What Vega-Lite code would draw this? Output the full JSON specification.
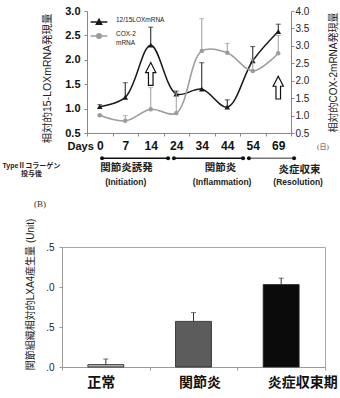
{
  "$schema": "https://vega.github.io/schema/vega-lite/v6.json",
  "background": "white",
  "padding": {"left": 2, "top": 5, "right": 0, "bottom": 0},
  "bounds": "flush",
  "spacing": 8,
  "config": {
    "view": {"stroke": null},
    "font": "Liberation Sans, Noto Sans CJK JP",
    "axis": {"grid": false}
  },
  "datasets": {
    "mrna": [
      {"series": "12/15LOXmRNA", "day": 0, "value": 1.04, "upper": 1.08},
      {"series": "12/15LOXmRNA", "day": 7, "value": 1.23, "upper": 1.53},
      {"series": "12/15LOXmRNA", "day": 14, "value": 2.30, "upper": 2.67},
      {"series": "12/15LOXmRNA", "day": 24, "value": 1.30, "upper": 1.36},
      {"series": "12/15LOXmRNA", "day": 34, "value": 1.40, "upper": 1.94},
      {"series": "12/15LOXmRNA", "day": 44, "value": 1.03, "upper": 1.18},
      {"series": "12/15LOXmRNA", "day": 54, "value": 1.98, "upper": 2.27},
      {"series": "12/15LOXmRNA", "day": 69, "value": 2.58, "upper": 2.73},
      {"series": "COX-2 mRNA", "day": 0, "value": 1.01, "upper": 1.02},
      {"series": "COX-2 mRNA", "day": 7, "value": 0.85, "upper": 1.0},
      {"series": "COX-2 mRNA", "day": 14, "value": 1.18, "upper": 1.80},
      {"series": "COX-2 mRNA", "day": 24, "value": 1.07, "upper": 1.65},
      {"series": "COX-2 mRNA", "day": 34, "value": 2.85, "upper": 3.78},
      {"series": "COX-2 mRNA", "day": 44, "value": 2.80, "upper": 3.07},
      {"series": "COX-2 mRNA", "day": 54, "value": 2.28, "upper": 2.62},
      {"series": "COX-2 mRNA", "day": 69, "value": 2.79, "upper": 3.30}
    ],
    "cues": [
      {"day": 14, "value": 1.71},
      {"day": 69, "value": 1.43}
    ],
    "phases": [
      {"phase": "initiation", "from": 0.09, "to": 2.68, "row": 1.44},
      {"phase": "inflammation", "from": 2.91, "to": 5.62, "row": 1.44},
      {"phase": "resolution", "from": 5.85, "to": 7.62, "row": 1.44}
    ],
    "phaseText": [
      {"text": "関節炎誘発", "slot": 1.05, "row": 2.29, "kind": "ja"},
      {"text": "(Initiation)", "slot": 1.02, "row": 3.38, "kind": "en"},
      {"text": "関節炎", "slot": 4.74, "row": 2.29, "kind": "ja"},
      {"text": "(Inflammation)", "slot": 4.8, "row": 3.38, "kind": "en"},
      {"text": "炎症収束", "slot": 7.83, "row": 2.4, "kind": "ja"},
      {"text": "(Resolution)", "slot": 7.78, "row": 3.45, "kind": "en"},
      {"text": "TypeⅡコラーゲン\n投与後", "slot": -2.68, "row": 2.12, "kind": "note"},
      {"text": "(日)", "slot": 8.75, "row": 0.5, "kind": "unit"}
    ],
    "lxa4": [
      {"group": "正常", "value": 0.03, "upper": 0.10},
      {"group": "関節炎", "value": 0.57, "upper": 0.68},
      {"group": "炎症収束期", "value": 1.03, "upper": 1.11}
    ]
  },
  "vconcat": [
    {
      "width": 229,
      "height": 122,
      "encoding": {
        "x": {
          "field": "day",
          "type": "ordinal",
          "scale": {"range": [25, 229], "paddingInner": 0, "paddingOuter": 0},
          "axis": {
            "labelAngle": 0,
            "labelFontSize": 12,
            "labelFontWeight": "bold",
            "labelColor": "#111",
            "labelPadding": 4,
            "tickBand": "extent",
            "tickSize": 3,
            "tickColor": "#888",
            "domainColor": "#888",
            "title": "Days",
            "titleFontSize": 11,
            "titleFontWeight": "bold",
            "titleColor": "#111",
            "titleAlign": "left",
            "titleBaseline": "middle",
            "titleX": 5,
            "titleY": 13
          }
        }
      },
      "layer": [
        {
          "encoding": {
            "y": {
              "field": "value",
              "type": "quantitative",
              "scale": {"domain": [0.5, 3.0], "nice": false, "zero": false},
              "axis": {
                "orient": "left",
                "offset": -25,
                "values": [0.5, 1, 1.5, 2, 2.5, 3],
                "format": ".1f",
                "labelFontSize": 11,
                "labelFontWeight": "bold",
                "labelColor": "#111",
                "labelPadding": 4,
                "tickSize": 3,
                "tickColor": "#888",
                "domainColor": "#888",
                "title": "相対的15-LOXmRNA発現量",
                "titleFontSize": 10.5,
                "titleFontWeight": "normal",
                "titleColor": "#222",
                "titlePadding": 12,
                "titleY": 67
              }
            }
          },
          "layer": [
            {
              "data": {"name": "mrna"},
              "transform": [{"filter": "datum.series == '12/15LOXmRNA'"}],
              "encoding": {
                "color": {
                  "field": "series",
                  "type": "nominal",
                  "scale": {"domain": ["12/15LOXmRNA", "COX-2 mRNA"], "range": ["#1a1a1a", "#9c9c9c"]},
                  "legend": {
                    "orient": "none",
                    "legendX": 32,
                    "legendY": 6,
                    "title": null,
                    "symbolSize": 64,
                    "symbolStrokeWidth": 1.3,
                    "labelFontSize": 6.5,
                    "labelColor": "#222",
                    "labelOffset": 12,
                    "labelBaseline": "alphabetic",
                    "rowPadding": 4,
                    "labelExpr": "datum.label == 'COX-2 mRNA' ? ['COX-2', 'mRNA'] : datum.label",
                    "encode": {
                      "symbols": {
                        "update": {
                          "shape": {"signal": "datum.value == '12/15LOXmRNA' ? 'M-2.1,0H2.1M-0.7,0.6L0,-0.7L0.7,0.6Z' : 'M-2.1,0H2.1M0.6,0A0.6,0.6,0,1,1,-0.6,0A0.6,0.6,0,1,1,0.6,0Z'"},
                          "fill": {"signal": "datum.value == '12/15LOXmRNA' ? '#1a1a1a' : '#9c9c9c'"},
                          "stroke": {"signal": "datum.value == '12/15LOXmRNA' ? '#1a1a1a' : '#9c9c9c'"},
                          "opacity": {"value": 1}
                        }
                      }
                    }
                  }
                }
              },
              "layer": [
                {"mark": {"type": "line", "interpolate": "catmull-rom", "strokeWidth": 1.5}},
                {"mark": {"type": "rule", "strokeWidth": 1}, "encoding": {"y2": {"field": "upper"}}},
                {"mark": {"type": "tick", "thickness": 1, "size": 5}, "encoding": {"y": {"field": "upper", "type": "quantitative"}}},
                {"mark": {"type": "point", "shape": "triangle-up", "filled": true, "size": 32, "opacity": 1}}
              ]
            },
            {
              "data": {"name": "cues"},
              "mark": {
                "type": "point",
                "shape": "M0,-1L0.45,-0.12L0.2,-0.12L0.2,1L-0.2,1L-0.2,-0.12L-0.45,-0.12Z",
                "size": 520,
                "filled": true,
                "fill": "white",
                "stroke": "#111",
                "strokeWidth": 1.2,
                "opacity": 1
              }
            }
          ]
        },
        {
          "data": {"name": "mrna"},
          "transform": [{"filter": "datum.series == 'COX-2 mRNA'"}],
          "encoding": {
            "y": {
              "field": "value",
              "type": "quantitative",
              "scale": {"domain": [0.5, 4.0], "nice": false, "zero": false},
              "axis": {
                "orient": "right",
                "values": [0.5, 1, 1.5, 2, 2.5, 3, 3.5, 4],
                "format": ".1f",
                "labelFontSize": 10,
                "labelColor": "#222",
                "labelPadding": 1,
                "tickSize": 3,
                "tickColor": "#888",
                "domainColor": "#888",
                "title": "相対的COX-2mRNA発現量",
                "titleAngle": 270,
                "titleBaseline": "top",
                "titleFontSize": 10,
                "titleFontWeight": "normal",
                "titleColor": "#222",
                "titlePadding": 20
              }
            },
            "color": {
              "field": "series",
              "type": "nominal",
              "scale": {"domain": ["12/15LOXmRNA", "COX-2 mRNA"], "range": ["#1a1a1a", "#9c9c9c"]}
            }
          },
          "layer": [
            {"mark": {"type": "line", "interpolate": "catmull-rom", "strokeWidth": 1.5}},
            {"mark": {"type": "rule", "strokeWidth": 1}, "encoding": {"y2": {"field": "upper"}}},
            {"mark": {"type": "tick", "thickness": 1, "size": 5}, "encoding": {"y": {"field": "upper", "type": "quantitative"}}},
            {"mark": {"type": "point", "shape": "circle", "filled": true, "size": 20, "opacity": 1}}
          ]
        }
      ],
      "resolve": {"scale": {"y": "independent"}}
    },
    {
      "width": 229,
      "height": 98,
      "layer": [
        {
          "data": {"name": "phases"},
          "mark": {"type": "rule", "strokeWidth": 1.5},
          "encoding": {
            "x": {"field": "from", "type": "quantitative", "scale": {"domain": [-1.48, 7.5], "nice": false, "zero": false}, "axis": null},
            "x2": {"field": "to"},
            "y": {"field": "row", "type": "quantitative", "scale": {"domain": [0, 8.1667], "reverse": true, "nice": false, "zero": false}, "axis": null},
            "stroke": {
              "field": "phase",
              "type": "nominal",
              "scale": {"domain": ["initiation", "inflammation", "resolution"], "range": ["#111", "#111", "#777"]},
              "legend": null
            }
          }
        },
        {
          "data": {"name": "phases"},
          "mark": {"type": "point", "filled": true, "size": 16, "color": "#111", "opacity": 1},
          "encoding": {
            "x": {"field": "from", "type": "quantitative"},
            "y": {"field": "row", "type": "quantitative"}
          }
        },
        {
          "data": {"name": "phases"},
          "mark": {"type": "point", "filled": true, "size": 16, "color": "#111", "opacity": 1},
          "encoding": {
            "x": {"field": "to", "type": "quantitative"},
            "y": {"field": "row", "type": "quantitative"}
          }
        },
        {
          "data": {"name": "phaseText"},
          "transform": [{"filter": "datum.kind == 'ja'"}],
          "mark": {"type": "text", "font": "Noto Sans CJK JP", "fontSize": 10.5, "fontWeight": "bold", "color": "#222", "baseline": "middle"},
          "encoding": {
            "x": {"field": "slot", "type": "quantitative"},
            "y": {"field": "row", "type": "quantitative"},
            "text": {"field": "text"}
          }
        },
        {
          "data": {"name": "phaseText"},
          "transform": [{"filter": "datum.kind == 'en'"}],
          "mark": {"type": "text", "fontSize": 8.5, "fontWeight": "bold", "color": "#222", "baseline": "middle"},
          "encoding": {
            "x": {"field": "slot", "type": "quantitative"},
            "y": {"field": "row", "type": "quantitative"},
            "text": {"field": "text"}
          }
        },
        {
          "data": {"name": "phaseText"},
          "transform": [{"filter": "datum.kind == 'note'"}],
          "mark": {"type": "text", "fontSize": 7, "fontWeight": "bold", "color": "#222", "baseline": "middle", "lineBreak": "\n", "lineHeight": 8},
          "encoding": {
            "x": {"field": "slot", "type": "quantitative"},
            "y": {"field": "row", "type": "quantitative"},
            "text": {"field": "text"}
          }
        },
        {
          "data": {"name": "phaseText"},
          "transform": [{"filter": "datum.kind == 'unit'"}],
          "mark": {"type": "text", "font": "Liberation Serif, Noto Sans CJK JP", "fontSize": 7, "color": "#444", "baseline": "middle"},
          "encoding": {
            "x": {"field": "slot", "type": "quantitative"},
            "y": {"field": "row", "type": "quantitative"},
            "text": {"field": "text"}
          }
        }
      ]
    },
    {
      "width": 263,
      "height": 120,
      "view": {"stroke": "#a8a8a8"},
      "title": {
        "text": "(B)",
        "anchor": "start",
        "frame": "group",
        "dx": -28,
        "font": "Liberation Serif",
        "fontSize": 9,
        "fontWeight": "normal",
        "color": "#333",
        "offset": 9
      },
      "data": {"name": "lxa4"},
      "encoding": {
        "x": {
          "field": "group",
          "type": "nominal",
          "sort": null,
          "scale": {"paddingInner": 0, "paddingOuter": 0},
          "axis": {
            "labelAngle": 0,
            "labelFont": "Noto Sans CJK JP",
            "labelFontSize": 14,
            "labelFontWeight": "bold",
            "labelColor": "#111",
            "labelPadding": 5,
            "labelOffset": {
              "condition": [
                {"test": "datum.value === '正常'", "value": -5},
                {"test": "datum.value === '関節炎'", "value": 6}
              ],
              "value": 21
            },
            "tickBand": "extent",
            "tickSize": 3,
            "tickColor": "#999",
            "domainColor": "#999",
            "title": null
          }
        },
        "y": {
          "field": "value",
          "type": "quantitative",
          "scale": {"domain": [0, 1.5], "nice": false, "zero": false},
          "axis": {
            "values": [0, 0.5, 1, 1.5],
            "labelExpr": "replace(format(datum.value, '.1f'), /^[0-9]/, '')",
            "labelOverlap": false,
            "labelFontSize": 10,
            "labelColor": "#222",
            "labelPadding": 5,
            "tickSize": 3,
            "tickColor": "#999",
            "domainColor": "#999",
            "title": "関節組織相対的LXA4産生量 (Unit)",
            "titleFontSize": 10,
            "titleFontWeight": "normal",
            "titleColor": "#222",
            "titlePadding": 10,
            "titleY": 47
          }
        }
      },
      "layer": [
        {
          "mark": {"type": "bar", "width": {"band": 0.41}, "stroke": "#222", "strokeWidth": 0.8},
          "encoding": {
            "fill": {
              "field": "group",
              "type": "nominal",
              "sort": null,
              "scale": {"range": ["#b4b4b4", "#5c5c5c", "#0b0b0b"]},
              "legend": null
            }
          }
        },
        {
          "mark": {"type": "rule", "color": "#333"},
          "encoding": {"y2": {"field": "upper"}}
        },
        {
          "mark": {"type": "tick", "color": "#333", "size": 5, "thickness": 1},
          "encoding": {"y": {"field": "upper", "type": "quantitative"}}
        }
      ]
    }
  ]
}
